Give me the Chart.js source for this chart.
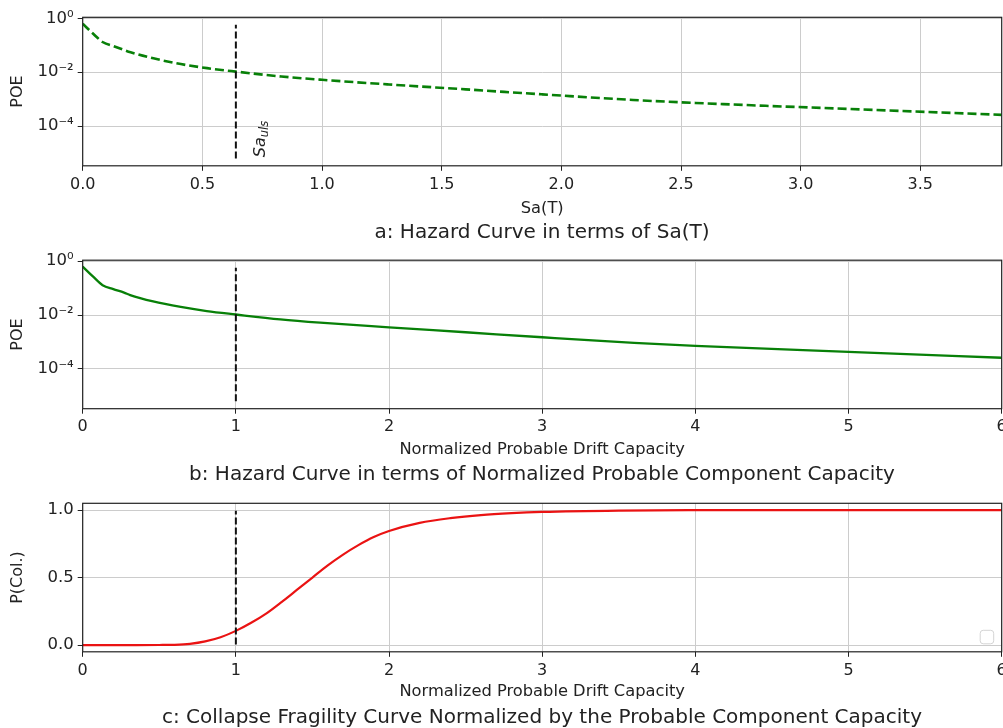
<!DOCTYPE html>
<html>
<head>
<meta charset="utf-8">
<script src="https://cdn.jsdelivr.net/npm/chart.js@4.4.1/dist/chart.umd.min.js"></script>
<style>
  html, body { margin: 0; padding: 0; background: #fff; overflow: hidden; }
  body { width: 1003px; height: 728px; position: relative; }
  .plot { position: absolute; left: 0; width: 1020px; }
  .caption { position: absolute; left: 0; width: 1084px; text-align: center;
             font-family: 'DejaVu Sans'; font-size: 20px; line-height: 24px; color: #222; white-space: nowrap; }
</style>
</head>
<body>
<div class="plot" style="top:0px;height:223px"><canvas id="chartA"></canvas></div>
<div class="caption" style="top:219px">a: Hazard Curve in terms of Sa(T)</div>
<div class="plot" style="top:243px;height:221px"><canvas id="chartB"></canvas></div>
<div class="caption" style="top:461px">b: Hazard Curve in terms of Normalized Probable Component Capacity</div>
<div class="plot" style="top:486px;height:220px"><canvas id="chartC"></canvas></div>
<div class="caption" style="top:704px">c: Collapse Fragility Curve Normalized by the Probable Component Capacity</div>

<script>
// Hazard curve vs Sa(T)
const saUls = 0.64;
const saValues = [0, 0.045, 0.085, 0.13, 0.17, 0.2, 0.3, 0.41, 0.52, 0.64, 0.83, 1.0, 1.28, 1.6, 1.92, 2.3, 2.56, 3.2, 3.84];
const saPoe = [0.63, 0.26, 0.129, 0.092, 0.068, 0.055, 0.032, 0.020, 0.0141, 0.0105, 0.0069, 0.0052, 0.0035, 0.0023, 0.0015, 0.00093, 0.00072, 0.00043, 0.00026];

// Hazard curve vs normalized capacity
const capValues = [0, 0.07, 0.13, 0.2, 0.27, 0.31, 0.46, 0.64, 0.81, 1.0, 1.29, 1.55, 2.0, 2.5, 3.0, 3.6, 4.0, 5.0, 6.0];
const capPoe = [0.63, 0.26, 0.129, 0.092, 0.068, 0.055, 0.032, 0.020, 0.0141, 0.0105, 0.0069, 0.0052, 0.0035, 0.0023, 0.0015, 0.00093, 0.00072, 0.00043, 0.00026];

// Collapse fragility
const fragX = [0, 0.3, 0.5, 0.6, 0.7, 0.8, 0.9, 1.0, 1.1, 1.2, 1.3, 1.4, 1.5, 1.6, 1.7, 1.8, 1.9, 2.0, 2.2, 2.4, 2.6, 2.8, 3.0, 3.5, 4.0, 5.0, 6.0];
const fragP = [0, 0, 0.0005, 0.002, 0.009, 0.027, 0.058, 0.105, 0.165, 0.235, 0.32, 0.41, 0.50, 0.59, 0.67, 0.74, 0.80, 0.845, 0.905, 0.94, 0.963, 0.977, 0.986, 0.996, 0.999, 1.0, 1.0];

// ticks
const saTicks = [0, 0.5, 1.0, 1.5, 2.0, 2.5, 3.0, 3.5];
const saTickLabels = ['0.0', '0.5', '1.0', '1.5', '2.0', '2.5', '3.0', '3.5'];
const capTicks = [0, 1, 2, 3, 4, 5, 6];
const capTickLabels = ['0', '1', '2', '3', '4', '5', '6'];
const poeTicks = [1, 1e-2, 1e-4];
const poeTickLabels = ['10⁰', '10⁻²', '10⁻⁴'];
const probTicks = [0, 0.5, 1.0];
const probTickLabels = ['0.0', '0.5', '1.0'];

const FONT = 'DejaVu Sans';
const INK = '#222';
const GRID = '#cccccc';

function toPoints(xs, ys) {
  return xs.map((x, i) => ({ x: x, y: ys[i] }));
}

function xAxis(min, max, ticks, labels, title, height) {
  return {
    type: 'linear', min: min, max: max,
    afterBuildTicks: s => { s.ticks = ticks.map(v => ({ value: v })); },
    afterFit: s => { s.height = height; },
    ticks: { callback: (v, i) => labels[i], font: { family: FONT, size: 16 }, color: INK,
             padding: 4, maxRotation: 0, autoSkip: false },
    grid: { color: GRID, lineWidth: 1, tickLength: 5, tickColor: INK, tickWidth: 1 },
    border: { display: false },
    title: { display: true, text: title, font: { family: FONT, size: 16.3 }, color: INK,
             padding: { top: 0, bottom: 4.2 } }
  };
}

function yAxis(type, min, max, ticks, labels, title) {
  return {
    type: type, min: min, max: max,
    afterBuildTicks: s => { s.ticks = ticks.map(v => ({ value: v })); },
    afterFit: s => { s.width = 82.7; },
    ticks: { callback: (v, i) => labels[i], font: { family: FONT, size: 16.5 }, color: INK,
             padding: 4, autoSkip: false },
    grid: { color: GRID, lineWidth: 1, tickLength: 5, tickColor: INK, tickWidth: 1 },
    border: { display: false },
    title: { display: true, text: title, font: { family: FONT, size: 16 }, color: INK,
             padding: { top: 7.9, bottom: 0 } }
  };
}

// dashed marker line, frame, and extras
function decorations(extra) {
  return {
    id: 'decorations',
    afterDatasetsDraw(chart) {
      const { ctx, chartArea: a, scales } = chart;
      const h = a.bottom - a.top;
      const x = scales.x.getPixelForValue(extra.vline);
      ctx.save();
      ctx.strokeStyle = '#111';
      ctx.lineWidth = 2;
      ctx.setLineDash([7, 3]);
      ctx.beginPath();
      ctx.moveTo(x, a.bottom - 0.05 * h);
      ctx.lineTo(x, a.top + 0.05 * h);
      ctx.stroke();
      ctx.restore();
      if (extra.label) {
        ctx.save();
        ctx.translate(scales.x.getPixelForValue(0.76), scales.y.getPixelForValue(6.98e-6));
        ctx.rotate(-Math.PI / 2);
        ctx.fillStyle = INK;
        ctx.textBaseline = 'alphabetic';
        ctx.font = 'italic 16px ' + FONT;
        ctx.fillText('Sa', 0, 0);
        const w = ctx.measureText('Sa').width;
        ctx.font = 'italic 11.5px ' + FONT;
        ctx.fillText('uls', w, 3);
        ctx.restore();
      }
      if (extra.legend) {
        ctx.save();
        ctx.fillStyle = 'rgba(255,255,255,0.8)';
        ctx.strokeStyle = '#d4d4d4';
        ctx.lineWidth = 1;
        ctx.beginPath();
        ctx.roundRect(a.right - 21.5, a.bottom - 21.5, 13.5, 13.5, 3);
        ctx.fill();
        ctx.stroke();
        ctx.restore();
      }
    },
    afterDraw(chart) {
      const { ctx, chartArea: a } = chart;
      ctx.save();
      ctx.strokeStyle = INK;
      ctx.lineWidth = 1.2;
      ctx.strokeRect(a.left, a.top, a.right - a.left, a.bottom - a.top);
      ctx.restore();
    }
  };
}

function baseOptions(areaTop, scales) {
  return {
    responsive: true,
    maintainAspectRatio: false,
    animation: false,
    layout: { padding: { top: areaTop, right: 18.3, bottom: 0, left: 0 } },
    plugins: { legend: { display: false }, tooltip: { enabled: false } },
    scales: scales
  };
}

new Chart(document.getElementById('chartA'), {
  type: 'line',
  data: { datasets: [{
    data: toPoints(saValues, saPoe),
    borderColor: '#088008', borderWidth: 2.6, borderDash: [9, 4],
    pointRadius: 0, cubicInterpolationMode: 'monotone', fill: false
  }] },
  options: baseOptions(17.3, {
    x: xAxis(0, 3.84, saTicks, saTickLabels, 'Sa(T)', 223 - 165.8),
    y: yAxis('logarithmic', 3.34e-6, 1.09, poeTicks, poeTickLabels, 'POE')
  }),
  plugins: [decorations({ vline: saUls, label: true })]
});

new Chart(document.getElementById('chartB'), {
  type: 'line',
  data: { datasets: [{
    data: toPoints(capValues, capPoe),
    borderColor: '#088008', borderWidth: 2.3,
    pointRadius: 0, cubicInterpolationMode: 'monotone', fill: false
  }] },
  options: baseOptions(17.2, {
    x: xAxis(0, 6, capTicks, capTickLabels, 'Normalized Probable Drift Capacity', 464 - 408.7),
    y: yAxis('logarithmic', 3.34e-6, 1.09, poeTicks, poeTickLabels, 'POE')
  }),
  plugins: [decorations({ vline: 1 })]
});

new Chart(document.getElementById('chartC'), {
  type: 'line',
  data: { datasets: [{
    data: toPoints(fragX, fragP),
    borderColor: '#ea1313', borderWidth: 2.2,
    pointRadius: 0, cubicInterpolationMode: 'monotone', fill: false
  }] },
  options: baseOptions(17.3, {
    x: xAxis(0, 6, capTicks, capTickLabels, 'Normalized Probable Drift Capacity', 706 - 651.8),
    y: yAxis('linear', -0.05, 1.05, probTicks, probTickLabels, 'P(Col.)')
  }),
  plugins: [decorations({ vline: 1, legend: true })]
});
</script>
</body>
</html>
